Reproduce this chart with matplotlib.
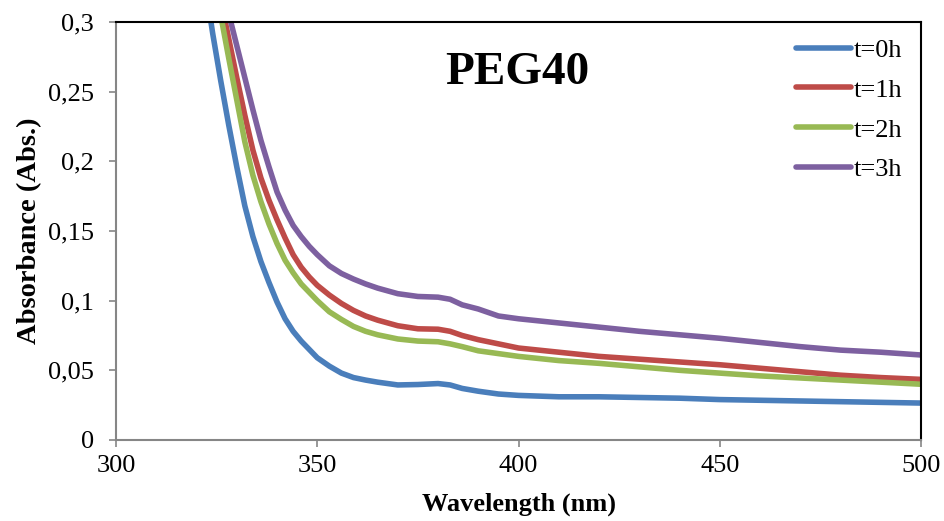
import matplotlib.pyplot as plt
from matplotlib.ticker import FuncFormatter

plt.rcParams["font.family"] = ["Liberation Serif", "DejaVu Serif"]

# wavelength grid (nm)
wavelength = [322, 324, 326, 328, 330, 332, 334, 336, 338, 340, 342, 344, 346, 348,
              350, 353, 356, 359, 362, 365, 370, 375, 380, 383, 386, 390, 395, 400,
              410, 420, 430, 440, 450, 460, 470, 480, 490, 500]

# absorbance for each time point
abs_0h = [0.33, 0.292, 0.258, 0.226, 0.196, 0.168, 0.146, 0.128, 0.113, 0.099, 0.087, 0.078,
          0.071, 0.065, 0.059, 0.053, 0.048, 0.0448, 0.043, 0.0415, 0.0395, 0.0398, 0.0405,
          0.0395, 0.037, 0.035, 0.033, 0.032, 0.031, 0.031, 0.0305, 0.030, 0.029, 0.0285,
          0.028, 0.0275, 0.027, 0.0265]
abs_1h = [0.375, 0.345, 0.316, 0.288, 0.26, 0.233, 0.208, 0.188, 0.172, 0.158, 0.145, 0.133,
          0.124, 0.117, 0.111, 0.104, 0.098, 0.093, 0.089, 0.086, 0.082, 0.0798, 0.0795,
          0.078, 0.075, 0.072, 0.069, 0.066, 0.063, 0.060, 0.058, 0.056, 0.054, 0.0515,
          0.049, 0.0465, 0.0448, 0.0435]
abs_2h = [0.37, 0.337, 0.305, 0.274, 0.244, 0.214, 0.19, 0.171, 0.155, 0.141, 0.129, 0.12,
          0.112, 0.106, 0.1, 0.092, 0.0865, 0.0815, 0.078, 0.0755, 0.0725, 0.071, 0.0705,
          0.069, 0.067, 0.064, 0.062, 0.060, 0.057, 0.055, 0.0525, 0.050, 0.048, 0.046,
          0.0445, 0.043, 0.0415, 0.040]
abs_3h = [0.35, 0.33, 0.318, 0.306, 0.283, 0.26, 0.237, 0.215, 0.196, 0.178, 0.165, 0.154,
          0.146, 0.139, 0.133, 0.125, 0.1195, 0.1155, 0.112, 0.109, 0.105, 0.103, 0.1025,
          0.101, 0.097, 0.094, 0.089, 0.087, 0.084, 0.081, 0.078, 0.0755, 0.073, 0.070,
          0.067, 0.0645, 0.063, 0.061]

series = [("t=0h", abs_0h, "#4A7EBB"),
          ("t=1h", abs_1h, "#BE4B48"),
          ("t=2h", abs_2h, "#98B954"),
          ("t=3h", abs_3h, "#7D60A0")]

fig = plt.figure(figsize=(9.45, 5.21), dpi=100)
ax = fig.add_axes([0.1228, 0.1555, 0.8518, 0.8023])

for label, values, color in series:
    ax.plot(wavelength, values, color=color, lw=4, label=label, solid_capstyle="round")

ax.set_xlim(300, 500)
ax.set_ylim(0, 0.3)
ax.set_xticks([300, 350, 400, 450, 500])
ax.set_yticks([0, 0.05, 0.1, 0.15, 0.2, 0.25, 0.3])
ax.yaxis.set_major_formatter(FuncFormatter(lambda v, p: ("%g" % round(v, 2)).replace(".", ",")))

ax.tick_params(direction="out", length=5, width=1.2, color="#868686", labelsize=19)
ax.tick_params(axis="x", pad=6)
ax.tick_params(axis="y", pad=11)
for s in ["left", "bottom"]:
    ax.spines[s].set_color("#868686")
    ax.spines[s].set_linewidth(1.5)
for s in ["top", "right"]:
    ax.spines[s].set_color("black")
    ax.spines[s].set_linewidth(1.5)

ax.set_xlabel("Wavelength (nm)", fontsize=19, fontweight="bold", labelpad=11)
ax.set_ylabel("Absorbance (Abs.)", fontsize=20.5, fontweight="bold", labelpad=4)

ax.text(0.498, 0.877, "PEG40", transform=ax.transAxes, ha="center", va="center",
        fontsize=34, fontweight="bold")

ax.legend(loc="upper right", bbox_to_anchor=(1.0, 1.005), frameon=False, fontsize=19,
          handlelength=2.1, handletextpad=0.1, labelspacing=0.62, borderaxespad=0.3)

fig.savefig("out.png", dpi=100)
